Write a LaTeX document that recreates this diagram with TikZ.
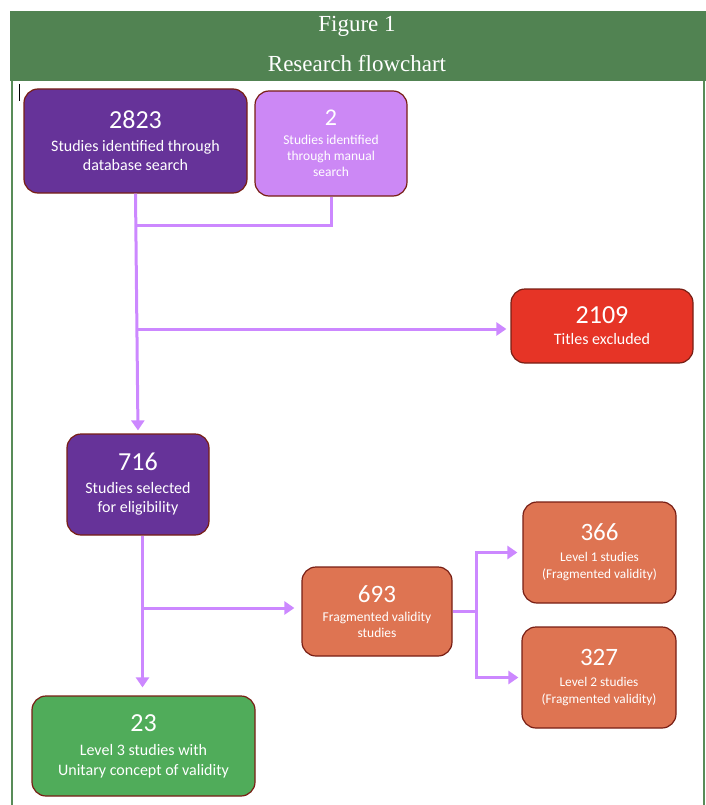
\documentclass[tikz,border=0pt]{standalone}
\usepackage{fontspec}
\setmainfont{Carlito}
\newfontfamily\hdrfont{Liberation Serif}
\usetikzlibrary{arrows.meta,calc}
\definecolor{hdrgreen}{RGB}{81,131,82}
\definecolor{framegreen}{RGB}{88,140,88}
\definecolor{dpurple}{RGB}{102,51,153}
\definecolor{lpurple}{RGB}{204,136,245}
\definecolor{boxred}{RGB}{230,52,38}
\definecolor{boxorange}{RGB}{222,116,82}
\definecolor{boxgreen}{RGB}{80,172,90}
\definecolor{boxborder}{RGB}{120,30,20}
\definecolor{conn}{RGB}{204,136,255}
\tikzset{
  box/.style={draw=boxborder, line width=1.2pt, rounded corners=14pt, text=white, align=center, inner sep=0pt},
  link/.style={draw=conn, line width=3pt},
  arr/.style={link, -{Triangle[length=10pt,width=13pt]}},
  hdrtext/.style={text=white, font=\hdrfont\fontsize{23}{26}\selectfont, inner sep=0pt},
}
\newcommand{\bignum}[2]{{\fontsize{#1}{#1}\selectfont #2}}
\begin{document}
\begin{tikzpicture}[x=1pt,y=-1pt]
\useasboundingbox (0,0) rectangle (706,805);
% header and frame
\fill[hdrgreen] (10,11) rectangle (706,81);
\node[hdrtext] (fig) at (357,26) {Figure 1};
\node[hdrtext] (title) at (357,64) {Research flowchart};
\draw[framegreen, line width=2pt] (12,81) -- (12,805);
\draw[framegreen, line width=2pt] (704,81) -- (704,805);
\draw[black, line width=0.8pt] (19.5,84) -- (19.5,101);
% boxes
\node[box, fill=dpurple, minimum width=223pt, minimum height=104pt,
      font=\fontsize{16}{19}\selectfont] (a) at (135.5,141)
  {\bignum{26}{2823}\\[4pt]Studies identified through\\database search};
\node[box, fill=lpurple, minimum width=152pt, minimum height=105pt,
      font=\fontsize{13.5}{16}\selectfont] (b) at (331,143.5)
  {\bignum{24}{2}\\[3pt]Studies identified\\through manual\\search};
\node[box, fill=boxred, minimum width=182pt, minimum height=74pt,
      font=\fontsize{16}{18}\selectfont] (d) at (602,326)
  {\bignum{26}{2109}\\[3pt]Titles excluded};
\node[box, fill=dpurple, minimum width=142pt, minimum height=101pt,
      font=\fontsize{16}{19}\selectfont] (c) at (138,484.5)
  {\bignum{26}{716}\\[4pt]Studies selected\\for eligibility};
\node[box, fill=boxorange, minimum width=150pt, minimum height=89pt,
      font=\fontsize{13.5}{16}\selectfont] (f) at (377,611.5)
  {\bignum{25}{693}\\[3pt]Fragmented validity\\studies};
\node[box, fill=boxorange, minimum width=153pt, minimum height=101pt,
      font=\fontsize{13.3}{17}\selectfont] (g) at (599.5,552.5)
  {\bignum{25}{366}\\[4pt]Level 1 studies\\(Fragmented validity)};
\node[box, fill=boxorange, minimum width=154pt, minimum height=101pt,
      font=\fontsize{13.3}{17}\selectfont] (h) at (599,677.5)
  {\bignum{25}{327}\\[4pt]Level 2 studies\\(Fragmented validity)};
\node[box, fill=boxgreen, minimum width=223pt, minimum height=100pt,
      font=\fontsize{16}{20}\selectfont] (e) at (143.5,746)
  {\bignum{26}{23}\\[4pt]Level 3 studies with\\Unitary concept of validity};
% connectors
\coordinate (j1) at (136.5,225);
\coordinate (j2) at (137,329);
\coordinate (j3) at (142.5,608);
\draw[link] (b.south) |- (j1);
\draw[arr, shorten >=3pt] (a.south) -- (c.north);
\draw[arr, shorten >=4pt] (j2) -- (d.west |- j2);
\draw[arr, shorten >=8pt] (c.south -| j3) -- (e.north -| j3);
\draw[arr, shorten >=7pt] (j3) -- (f.west |- j3);
\draw[link] (f.east) -- ++(24,0) coordinate (k);
\draw[arr, shorten >=5pt] (k) |- (g.west);
\draw[arr, shorten >=3pt] (k) |- (h.west);
\end{tikzpicture}
\end{document}
